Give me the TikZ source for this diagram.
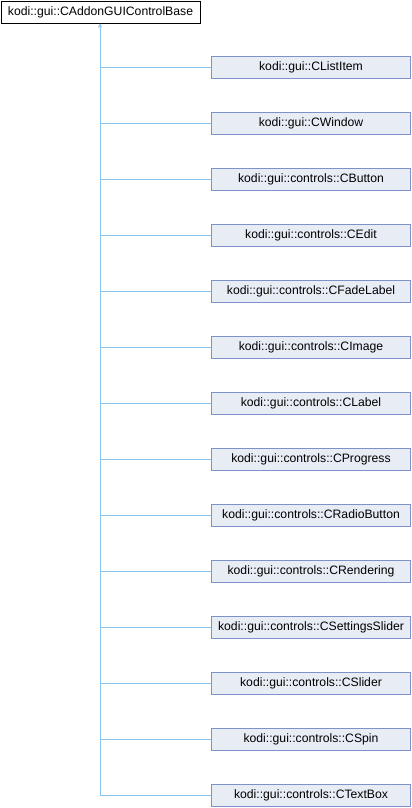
\documentclass[tikz,border=0pt]{standalone}
\usepackage{fontspec}
\setmainfont{Liberation Sans}
\usetikzlibrary{arrows.meta}
\definecolor{edgeblue}{HTML}{88C4EC}
\definecolor{boxfill}{HTML}{E8ECF5}
\definecolor{boxline}{HTML}{7B93C6}
\begin{document}
\begin{tikzpicture}[x=1pt,y=-1pt,
  base/.style={draw=black,fill=white,line width=0.9pt,minimum width=199pt,minimum height=22pt,inner sep=0pt,font=\fontsize{12.2}{14}\selectfont},
  child/.style={draw=boxline,fill=boxfill,line width=0.9pt,minimum width=199pt,minimum height=22pt,inner sep=0pt,font=\fontsize{12.2}{14}\selectfont},
  edge/.style={draw=edgeblue,line width=0.9pt}]
\useasboundingbox (0,0) rectangle (412,808);
\node[base] (root) at (100.5,12) {kodi::gui::CAddonGUIControlBase};
\coordinate (trunk) at (100,796);
\foreach \n/\t [count=\i from 0] in {
  c1/kodi::gui::CListItem,
  c2/kodi::gui::CWindow,
  c3/kodi::gui::controls::CButton,
  c4/kodi::gui::controls::CEdit,
  c5/kodi::gui::controls::CFadeLabel,
  c6/kodi::gui::controls::CImage,
  c7/kodi::gui::controls::CLabel,
  c8/kodi::gui::controls::CProgress,
  c9/kodi::gui::controls::CRadioButton,
  c10/kodi::gui::controls::CRendering,
  c11/kodi::gui::controls::CSettingsSlider,
  c12/kodi::gui::controls::CSlider,
  c13/kodi::gui::controls::CSpin,
  c14/kodi::gui::controls::CTextBox}{
  \node[child] (\n) at (311,67.5+56*\i) {\t};
  \coordinate (j\n) at (100,67.5+56*\i);
  \draw[edge] (j\n) -- (\n.west);
}
\draw[edge,-{Triangle[open,length=4pt,width=4pt]}] (trunk) -- (root.south -| trunk);
\end{tikzpicture}
\end{document}
